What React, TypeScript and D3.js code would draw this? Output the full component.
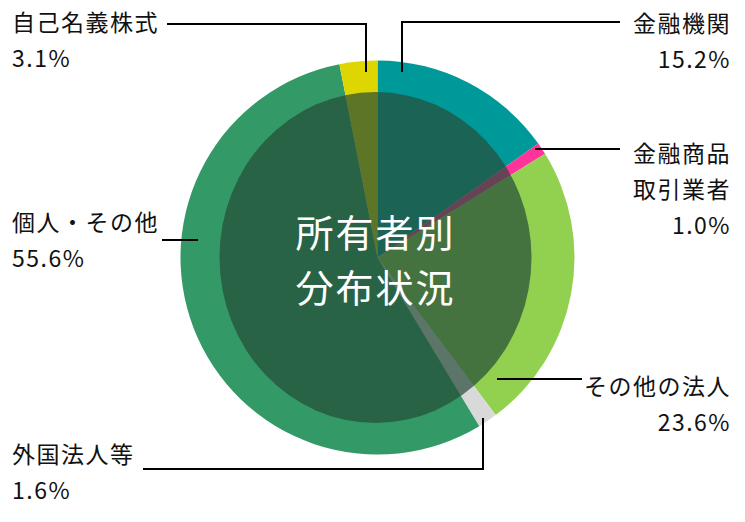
import * as React from "react";
import * as d3 from "d3";

// owner categories, clockwise from 12 o'clock
const categories = ["金融機関", "金融商品取引業者", "その他の法人", "外国法人等", "個人・その他", "自己名義株式"];
const shares = [15.2, 1.0, 23.6, 1.6, 55.6, 3.1];
const labelLines = [["金融機関"], ["金融商品", "取引業者"], ["その他の法人"], ["外国法人等"], ["個人・その他"], ["自己名義株式"]];
const colors = ["#009999", "#ff3399", "#92d050", "#d9d9d9", "#339966", "#ddd600"];
const title = ["所有者別", "分布状況"];

const W = 745;
const H = 522;
const cx = 377.5;
const cy = 257.5;
const outerR = 197;
const font = "'Noto Sans CJK JP', 'Noto Sans', sans-serif";

// label layout: anchor x, first line y, text-anchor, leader polyline
const layout = [
    { x: 731, y: 22, anchor: "end", leader: [[402, 72], [402, 22], [620, 22]] },
    { x: 731, y: 152, anchor: "end", leader: [[535, 149], [620, 149]] },
    { x: 731, y: 385, anchor: "end", leader: [[497, 379], [582, 379]] },
    { x: 12, y: 453, anchor: "start", leader: [[483, 418], [483, 469], [143, 469]] },
    { x: 12, y: 221, anchor: "start", leader: [[198, 240], [162, 240]] },
    { x: 12, y: 21, anchor: "start", leader: [[366, 72], [366, 24], [167, 24]] }
];

export default function App() {
    let pie = d3.pie<number>().sort(null).value(d => d);
    let arcs = pie(shares);
    let arcGen = d3.arc<d3.PieArcDatum<number>>().innerRadius(0).outerRadius(outerR);
    let line = d3.line();

    return (
        <svg width={W} height={H} style={{ position: "absolute", left: 0, top: 0 }} fontFamily={font}>
            <rect width={W} height={H} fill="#ffffff" />
            <g transform={`translate(${cx}, ${cy})`}>
                {arcs.map((a, i) => (
                    <path key={i} d={arcGen(a) || ""} fill={colors[i]} />
                ))}
                {/* darker inner disc, slightly oval like the original */}
                <ellipse cx={-2} rx={156} ry={165.5} fill="#254c38" opacity={0.7} />
                {title.map((t, i) => (
                    <text key={i} x={-2} y={-27 + i * 55} fill="#ffffff" fontSize={38} letterSpacing={2}
                        textAnchor="middle" dominantBaseline="central">{t}</text>
                ))}
            </g>
            {layout.map((l, i) => (
                <path key={"l" + i} d={line(l.leader as [number, number][]) || ""} fill="none" stroke="#000000" strokeWidth={2} />
            ))}
            {layout.map((l, i) => {
                let lines = labelLines[i].concat([shares[i].toFixed(1) + "%"]);
                return (
                    <g key={"t" + i}>
                        {lines.map((s, j) => (
                            <text key={j} x={l.x} y={l.y + j * 36} fontSize={23} letterSpacing={1.5}
                                textAnchor={l.anchor} dominantBaseline="central" fill="#111111">{s}</text>
                        ))}
                    </g>
                );
            })}
        </svg>
    );
}
